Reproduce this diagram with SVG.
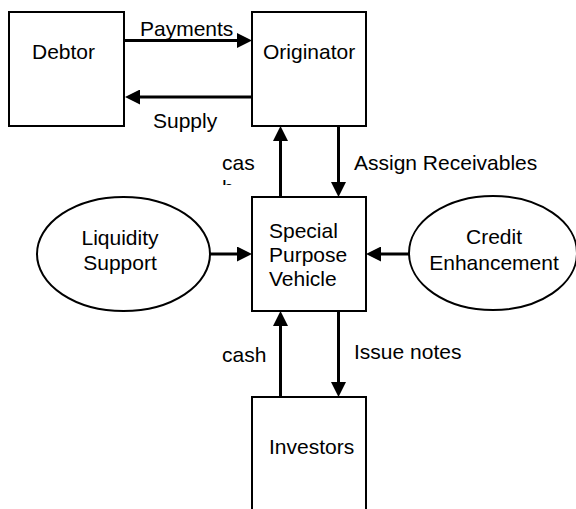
<svg xmlns="http://www.w3.org/2000/svg" width="576" height="509" viewBox="0 0 576 509">
<style>
.box{fill:#fff;stroke:#000;stroke-width:2}
.ell{fill:#fff;stroke:#000;stroke-width:2}
.lbl{font-family:"Liberation Sans",Arial,sans-serif;font-size:21px;fill:#000}
.mid{text-anchor:middle}
.con{stroke:#000;stroke-width:3;fill:none}
</style>
<defs>
<marker id="ah" markerUnits="userSpaceOnUse" markerWidth="15" markerHeight="15" refX="8" refY="7.5" orient="auto">
<path d="M0,0 L15,7.5 L0,15 z" fill="#000"/>
</marker>
<clipPath id="clipH"><rect x="200" y="170" width="60" height="15"/></clipPath>
</defs>
<rect width="576" height="509" fill="#fff"/>
<g id="debtor">
<rect class="box" x="9" y="12" width="115" height="114"/>
<text class="lbl" x="32" y="59">Debtor</text>
</g>
<g id="originator">
<rect class="box" x="252" y="12" width="114" height="114"/>
<text class="lbl" x="263" y="59">Originator</text>
</g>
<g id="spv">
<rect class="box" x="252" y="197" width="114" height="114"/>
<text class="lbl" x="269" y="238">Special</text>
<text class="lbl" x="269" y="262">Purpose</text>
<text class="lbl" x="269" y="286">Vehicle</text>
</g>
<g id="liquidity">
<ellipse class="ell" cx="123.5" cy="254" rx="86.5" ry="57"/>
<text class="lbl mid" x="120" y="245">Liquidity</text>
<text class="lbl mid" x="120" y="270">Support</text>
</g>
<g id="credit">
<ellipse class="ell" cx="493" cy="253" rx="84" ry="57"/>
<text class="lbl mid" x="494" y="244">Credit</text>
<text class="lbl mid" x="494" y="270">Enhancement</text>
</g>
<g id="investors">
<path class="box" d="M252,509 V397 H366 V509"/>
<text class="lbl" x="269" y="454">Investors</text>
</g>
<g id="connectors">
<line class="con" x1="124" y1="40.5" x2="245" y2="40.5" marker-end="url(#ah)"/>
<text class="lbl" x="140" y="36">Payments</text>
<line class="con" x1="252" y1="97" x2="132" y2="97" marker-end="url(#ah)"/>
<text class="lbl" x="153" y="128">Supply</text>
<line class="con" x1="280.5" y1="197" x2="280.5" y2="133" marker-end="url(#ah)"/>
<text class="lbl" x="222" y="170">cas</text>
<text class="lbl" x="222" y="195" clip-path="url(#clipH)">h</text>
<line class="con" x1="338.5" y1="126" x2="338.5" y2="190" marker-end="url(#ah)"/>
<text class="lbl" x="354" y="170">Assign Receivables</text>
<line class="con" x1="210" y1="254" x2="245" y2="254" marker-end="url(#ah)"/>
<line class="con" x1="409" y1="254" x2="373" y2="254" marker-end="url(#ah)"/>
<line class="con" x1="280.5" y1="397" x2="280.5" y2="318" marker-end="url(#ah)"/>
<text class="lbl" x="222" y="362">cash</text>
<line class="con" x1="338.5" y1="311" x2="338.5" y2="390" marker-end="url(#ah)"/>
<text class="lbl" x="354" y="359">Issue notes</text>
</g>
</svg>
